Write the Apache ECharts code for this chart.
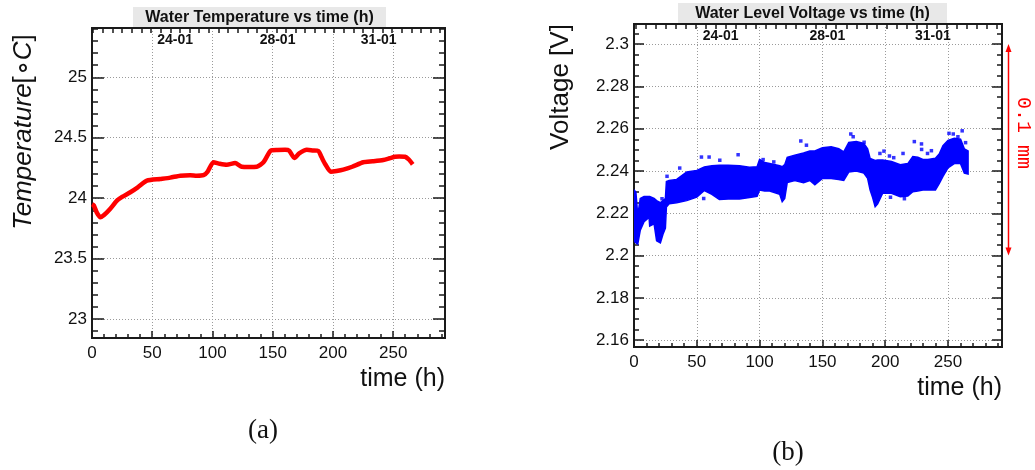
<!DOCTYPE html>
<html><head><meta charset="utf-8">
<script src="https://cdn.jsdelivr.net/npm/echarts@6/dist/echarts.min.js"></script>
<style>html,body{margin:0;padding:0;background:#fff}#c{width:1035px;height:470px}</style>
</head><body><div id="c"></div>
<script>
// ---------- data ----------
const tempTime = [0, 1.5, 4, 6.9, 10, 15, 20.7, 25, 31.8, 38, 45.6, 56.6, 65, 73.2, 81.5, 87, 92.5, 96, 100.8, 106, 111.9, 118.8, 124.4, 130, 136.8, 142.3, 148.4, 154, 160.3, 163.6, 168, 172, 178.3, 183, 187.9, 190.5, 193.5, 198.2, 203, 208.6, 216, 225.2, 233, 241.8, 247, 251.5, 255, 259.8, 263, 266.2];
const tempValue = [23.95, 23.94, 23.88, 23.842, 23.86, 23.91, 23.979, 24.01, 24.049, 24.09, 24.145, 24.159, 24.17, 24.186, 24.19, 24.185, 24.19, 24.22, 24.297, 24.285, 24.277, 24.29, 24.26, 24.258, 24.26, 24.297, 24.393, 24.398, 24.4, 24.393, 24.332, 24.37, 24.4, 24.395, 24.39, 24.34, 24.283, 24.219, 24.225, 24.236, 24.26, 24.297, 24.305, 24.316, 24.33, 24.343, 24.345, 24.343, 24.32, 24.28];

const voltTime = [0, 1.5, 3, 5, 8, 12, 12.5, 16, 18, 21, 23, 25, 25.8, 28, 34, 42, 50, 56, 62, 68, 75, 84, 92, 98, 100, 104, 108, 116, 118, 120, 122, 128, 135, 140, 144, 150, 157, 163, 167, 171, 177, 183, 186, 188, 190, 192, 194, 198, 205, 212, 218, 222, 226, 230, 234, 240, 243, 246, 250, 255, 260, 263, 266];
const voltHigh = [2.231, 2.230, 2.219, 2.227, 2.228, 2.228, 2.228, 2.227, 2.226, 2.225, 2.226, 2.227, 2.235, 2.2355, 2.236, 2.2395, 2.2403, 2.2419, 2.2425, 2.2427, 2.2427, 2.2425, 2.2418, 2.242, 2.2455, 2.244, 2.2435, 2.2425, 2.242, 2.243, 2.2465, 2.2475, 2.2485, 2.2495, 2.2495, 2.251, 2.2515, 2.2505, 2.249, 2.2535, 2.254, 2.253, 2.2505, 2.246, 2.2455, 2.245, 2.2452, 2.2452, 2.2445, 2.243, 2.2435, 2.2468, 2.2465, 2.2455, 2.2455, 2.246, 2.248, 2.252, 2.2545, 2.2555, 2.255, 2.2505, 2.2495];
const voltLow  = [2.207, 2.206, 2.2055, 2.212, 2.216, 2.218, 2.214, 2.215, 2.207, 2.206, 2.210, 2.213, 2.223, 2.2245, 2.225, 2.226, 2.2277, 2.2308, 2.229, 2.2265, 2.2268, 2.2268, 2.2275, 2.228, 2.231, 2.2305, 2.2305, 2.229, 2.2255, 2.227, 2.2345, 2.2355, 2.2345, 2.2355, 2.2335, 2.2365, 2.2365, 2.236, 2.2355, 2.2395, 2.2400, 2.2390, 2.2365, 2.231, 2.2275, 2.2231, 2.2245, 2.2295, 2.2295, 2.2278, 2.2282, 2.2302, 2.2305, 2.231, 2.231, 2.231, 2.234, 2.2375, 2.2415, 2.2435, 2.2435, 2.239, 2.2386];

const outlierTime = [22.3, 26.3, 36.4, 53.7, 55.5, 59.8, 68.3, 82.9, 102.8, 111.3, 132.8, 137.3, 172.6, 174.5, 183.2, 195.8, 199, 203.4, 204.2, 206.8, 214.2, 215.3, 223.2, 228.9, 229, 233.7, 236.8, 250.8, 254.2, 257.9, 261.3, 264];
const outlierVolt = [2.2269, 2.2375, 2.2414, 2.2466, 2.2270, 2.2466, 2.2451, 2.2477, 2.2454, 2.2443, 2.2542, 2.2522, 2.2575, 2.2562, 2.2536, 2.2483, 2.2494, 2.2471, 2.2276, 2.2463, 2.2483, 2.2269, 2.2539, 2.2528, 2.2502, 2.2483, 2.2496, 2.2578, 2.2575, 2.2562, 2.259, 2.2534];

const xMajorTicks = [0, 50, 100, 150, 200, 250];
const dateLabels = ['24-01', '28-01', '31-01'];
const dateLabelPos = [69, 154, 238];
const tempMajorTicks = [23, 23.5, 24, 24.5, 25];
const voltMajorTicks = [2.16, 2.18, 2.2, 2.22, 2.24, 2.26, 2.28, 2.3];

// ---------- axis helpers ----------
const X_MIN = 0, X_MAX = 293;
const T_MIN = 22.843, T_MAX = 25.408;
const V_MIN = 2.1568, V_MAX = 2.3095;
function range(a, b, s) { const r = []; for (let v = a; v <= b + 1e-9; v += s) r.push(Math.round(v * 10000) / 10000); return r; }
const xMinorTicks = range(10, 290, 10);
const topTicks = range(1, 289, 8);
const tempMinorTicks = range(22.9, 25.4, 0.1);
const voltMinorTicks = range(2.16, 2.305, 0.005);

const FONT = 'Liberation Sans';
const AX = '#1a1a1a';
const GRIDC = '#9a9a9a';

function mkX(gi, pos, ticks, len, extra) {
  return Object.assign({
    type: 'value', gridIndex: gi, position: pos, min: X_MIN, max: X_MAX, splitNumber: 6,
    axisLine: { show: true, onZero: false, lineStyle: { color: AX, width: 2 } },
    axisTick: { show: true, inside: true, length: len, customValues: ticks, lineStyle: { color: AX, width: 1.5 } },
    axisLabel: { show: false },
    splitLine: { show: false }
  }, extra || {});
}
function mkY(gi, pos, mn, mx, ticks, len, extra, split) {
  return Object.assign({
    type: 'value', gridIndex: gi, position: pos, min: mn, max: mx, splitNumber: split,
    axisLine: { show: true, onZero: false, lineStyle: { color: AX, width: 2 } },
    axisTick: { show: true, inside: true, length: len, customValues: ticks, lineStyle: { color: AX, width: 1.5 } },
    axisLabel: { show: false },
    splitLine: { show: false }
  }, extra || {});
}
const splitStyle = { show: true, lineStyle: { color: GRIDC, type: [1, 2], width: 1 } };
function bottomLabels() {
  return { show: true, customValues: xMajorTicks, fontSize: 17, color: '#111', fontFamily: FONT, margin: 7 };
}
function topLabels() {
  return { show: true, inside: true, customValues: dateLabelPos, margin: 5,
    formatter: v => dateLabels[dateLabelPos.indexOf(v)] || '',
    fontSize: 14, fontWeight: 'bold', color: '#111', fontFamily: FONT };
}
function leftLabels(vals) {
  return { show: true, customValues: vals, fontSize: 17, color: '#111', fontFamily: FONT, margin: 5 };
}

const xAxes = [];
const yAxes = [];
[0, 1].forEach(gi => {
  xAxes.push(mkX(gi, 'bottom', xMajorTicks, 7, { axisLabel: bottomLabels(), splitLine: splitStyle }));
  xAxes.push(mkX(gi, 'bottom', xMinorTicks, 4, {}));
  xAxes.push(mkX(gi, 'top', topTicks, 5, { axisLabel: topLabels() }));
});
yAxes.push(mkY(0, 'left', T_MIN, T_MAX, tempMajorTicks, 12, { axisLabel: leftLabels(tempMajorTicks), splitLine: splitStyle }, 5));
yAxes.push(mkY(0, 'left', T_MIN, T_MAX, tempMinorTicks, 6, {}, 5));
yAxes.push(mkY(0, 'right', T_MIN, T_MAX, tempMajorTicks, 12, {}, 5));
yAxes.push(mkY(0, 'right', T_MIN, T_MAX, tempMinorTicks, 6, {}, 5));
yAxes.push(mkY(1, 'left', V_MIN, V_MAX, voltMajorTicks, 10, { axisLabel: leftLabels(voltMajorTicks), splitLine: splitStyle }, 8));
yAxes.push(mkY(1, 'left', V_MIN, V_MAX, voltMinorTicks, 5, {}, 8));
yAxes.push(mkY(1, 'right', V_MIN, V_MAX, voltMajorTicks, 10, {}, 8));
yAxes.push(mkY(1, 'right', V_MIN, V_MAX, voltMinorTicks, 5, {}, 8));

const chart = echarts.init(document.getElementById('c'), null, { renderer: 'canvas' });

const option = {
  animation: false,
  backgroundColor: '#ffffff',
  grid: [
    { left: 92, top: 28, width: 353, height: 310, containLabel: false },
    { left: 634, top: 24, width: 368, height: 323, containLabel: false }
  ],
  xAxis: xAxes,
  yAxis: yAxes,
  series: [
    {
      name: 'Temperature', type: 'line', xAxisIndex: 0, yAxisIndex: 0,
      data: tempTime.map((t, i) => [t, tempValue[i]]),
      showSymbol: false, smooth: 0.2,
      lineStyle: { color: '#ff0000', width: 4.5 }, itemStyle: { color: '#ff0000' }
    },
    {
      name: 'Voltage band', type: 'custom', xAxisIndex: 3, yAxisIndex: 4,
      data: [[voltTime[0], voltHigh[0]]],
      silent: true, clip: true,
      renderItem: function (params, api) {
        const pts = [];
        for (let i = 0; i < voltTime.length; i++) pts.push(api.coord([voltTime[i], voltHigh[i]]));
        for (let i = voltTime.length - 1; i >= 0; i--) pts.push(api.coord([voltTime[i], voltLow[i]]));
        return { type: 'polygon', shape: { points: pts }, style: { fill: '#0000ff', stroke: '#0000ff', lineWidth: 1.5 } };
      }
    },
    {
      name: 'Voltage outliers', type: 'scatter', xAxisIndex: 3, yAxisIndex: 4,
      data: outlierTime.map((t, i) => [t, outlierVolt[i]]),
      symbol: 'rect', symbolSize: 3.5, itemStyle: { color: '#0000ff' }, silent: true
    }
  ],
  graphic: [
    { type: 'rect', shape: { x: 133, y: 7, width: 253, height: 21 }, style: { fill: '#e8e8e8' } },
    { type: 'text', x: 259.5, y: 18, style: { text: 'Water Temperature vs time (h)', font: 'bold 16px "Liberation Sans"', fill: '#111', align: 'center', verticalAlign: 'middle' } },
    { type: 'rect', shape: { x: 678, y: 3, width: 269, height: 21 }, style: { fill: '#e8e8e8' } },
    { type: 'text', x: 812.5, y: 14, style: { text: 'Water Level Voltage vs time (h)', font: 'bold 16px "Liberation Sans"', fill: '#111', align: 'center', verticalAlign: 'middle' } },
    { type: 'text', x: 24, y: 132, rotation: Math.PI / 2,
      style: { text: '{i|Temperature}{n|[∘}{i|C}{n|]}', align: 'center', verticalAlign: 'middle', fill: '#111',
        rich: { i: { fontStyle: 'italic', fontSize: 26, fontFamily: FONT, fill: '#111' }, n: { fontSize: 26, fontFamily: FONT, fill: '#111' } } } },
    { type: 'text', x: 561, y: 87, rotation: Math.PI / 2,
      style: { text: 'Voltage [V]', font: '26px "Liberation Sans"', fill: '#111', align: 'center', verticalAlign: 'middle' } },
    { type: 'text', x: 445, y: 379, style: { text: 'time (h)', font: '25px "Liberation Sans"', fill: '#111', align: 'right', verticalAlign: 'middle' } },
    { type: 'text', x: 1002, y: 388, style: { text: 'time (h)', font: '25px "Liberation Sans"', fill: '#111', align: 'right', verticalAlign: 'middle' } },
    { type: 'text', x: 263, y: 431, style: { text: '(a)', font: '27px "Liberation Serif"', fill: '#111', align: 'center', verticalAlign: 'middle' } },
    { type: 'text', x: 788, y: 453, style: { text: '(b)', font: '27px "Liberation Serif"', fill: '#111', align: 'center', verticalAlign: 'middle' } },
    { type: 'text', x: 1023, y: 133, rotation: -Math.PI / 2, style: { text: '0.1 mm', font: '20px "Liberation Mono"', fill: '#ff0000', align: 'center', verticalAlign: 'middle' } }
  ]
};
chart.setOption(option);

// red 0.1 mm arrow spanning 2.2 .. 2.3 V on the right plot
const yTop = chart.convertToPixel({ yAxisIndex: 4 }, 2.3);
const yBot = chart.convertToPixel({ yAxisIndex: 4 }, 2.2);
const ax = 1008.5;
option.graphic.push(
  { type: 'line', shape: { x1: ax, y1: yTop + 4, x2: ax, y2: yBot - 4 }, style: { stroke: '#ff0000', lineWidth: 1.5 } },
  { type: 'polygon', shape: { points: [[ax, yTop], [ax - 3, yTop + 8], [ax + 3, yTop + 8]] }, style: { fill: '#ff0000' } },
  { type: 'polygon', shape: { points: [[ax, yBot], [ax - 3, yBot - 8], [ax + 3, yBot - 8]] }, style: { fill: '#ff0000' } }
);
chart.setOption({ graphic: option.graphic });
</script>
</body></html>
